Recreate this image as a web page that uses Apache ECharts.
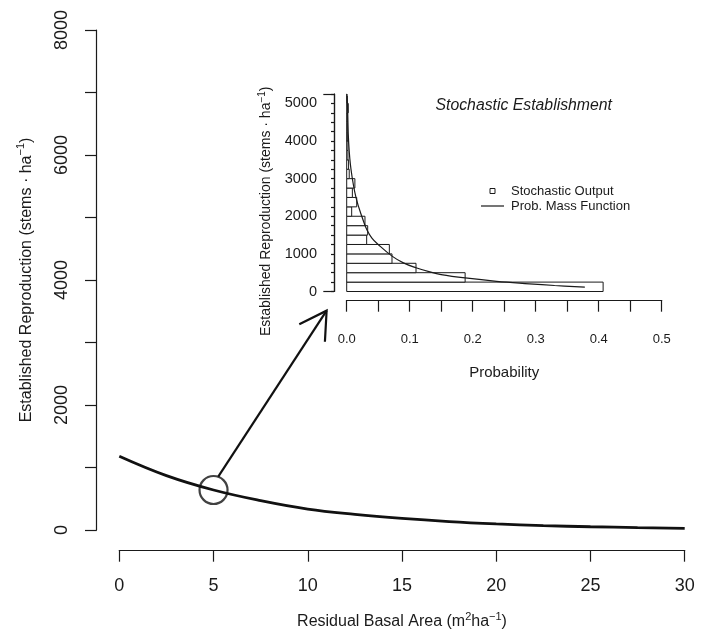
<!DOCTYPE html>
<html>
<head>
<meta charset="utf-8">
<script src="https://cdn.jsdelivr.net/npm/echarts@6/dist/echarts.min.js"></script>
<style>
  html, body { margin: 0; padding: 0; background: #fff; }
  #chart { width: 710px; height: 633px; }
</style>
</head>
<body>
<div id="chart"></div>
<script>
// Expected establishment vs residual basal area
const basalArea = [0, 2.5, 5, 7.5, 10, 12.5, 15, 17.5, 20, 22.5, 25, 27.5, 30];
const reproduction = [1180, 870, 640, 470, 335, 250, 185, 135, 98, 70, 52, 38, 27];

// Highlighted point (basal area 5) and the pointer towards the inset
const focusPoint = [5, 640];
const arrowShaft = [[5.25, 853], [11.0, 3509]];
const arrowHead = [[9.55, 3291], [11.0, 3509], [10.91, 3013]];

// Inset: simulated establishment histogram (bins of 250 stems/ha)
const binLower = [0, 250, 500, 750, 1000, 1250, 1500, 1750, 2000, 2250, 2500,
                  2750, 3000, 3250, 3500, 3750, 4000, 4250, 4500, 4750, 5000];
const binUpper = [250, 500, 750, 1000, 1250, 1500, 1750, 2000, 2250, 2500, 2750,
                  3000, 3250, 3500, 3750, 4000, 4250, 4500, 4750, 5000, 5250];
const binProb = [0.407, 0.188, 0.110, 0.0719, 0.0677, 0.0317, 0.0333, 0.029, 0.0079, 0.0159,
                 0.009, 0.013, 0.004, 0.003, 0.002, 0.002, 0.001, 0.001, 0.001, 0.0025, 0.0005];

// Inset: probability mass function curve (probability, stems/ha)
const pmfProb = [0.378, 0.330, 0.290, 0.238, 0.188, 0.150, 0.132, 0.110, 0.090, 0.072,
                 0.050, 0.040, 0.032, 0.026, 0.015, 0.0068, 0.003, 0.0016, 0.0008];
const pmfValue = [115, 160, 205, 270, 360, 450, 520, 630, 760, 940,
                  1250, 1420, 1640, 1900, 2480, 3250, 4000, 4760, 5200];

const FONT = '"Liberation Sans", Arial, Helvetica, sans-serif';
const INK = '#1a1a1a';

const chart = echarts.init(document.getElementById('chart'), null, { renderer: 'canvas' });

const axisBase = {
  axisLine: { show: true, onZero: false, lineStyle: { color: INK, width: 1.2 } },
  axisTick: { show: true, lineStyle: { color: INK, width: 1.2 } },
  splitLine: { show: false },
};

// Axis title with raised (superscript) pieces
function supName(parts, size, supSize, raise) {
  return {
    text: parts.map(p => `{${p[1] ? 's' : 't'}|${p[0]}}`).join(''),
    rich: {
      t: { fontSize: size, fontFamily: FONT, color: INK },
      s: { fontSize: supSize, fontFamily: FONT, color: INK, padding: [0, 0, raise * 2, 0] }
    }
  };
}

const xTitle = supName([['Residual Basal Area (m'], ['2', 1], ['ha'], ['\u22121', 1], [')']], 16, 11, 5);
const yTitle = supName([['Established Reproduction (stems \u00b7 ha'], ['\u22121', 1], [')']], 16, 11, 5);
const yTitleInset = supName([['Established Reproduction (stems \u00b7 ha'], ['\u22121', 1], [')']], 14, 10, 4.5);

const option = {
  animation: false,
  backgroundColor: '#fff',
  textStyle: { fontFamily: FONT, color: INK },
  title: {
    text: 'Stochastic Establishment',
    left: 430.5, top: 93,
    textStyle: { fontFamily: FONT, fontSize: 15.8, fontStyle: 'italic', fontWeight: 'normal', color: INK }
  },
  legend: {
    orient: 'vertical',
    left: 476, top: 179,
    itemWidth: 23, itemHeight: 5, itemGap: 1,
    selectedMode: false,
    textStyle: { fontFamily: FONT, fontSize: 13, color: INK, lineHeight: 14, padding: [0, 0, 0, 2] },
    data: [
      { name: 'Stochastic Output', icon: 'path://M0 0H10V10H0Z',
        itemStyle: { color: '#fff', borderColor: INK, borderWidth: 1 } },
      { name: 'Prob. Mass Function', icon: 'path://M0 0H23V1.2H0Z',
        itemStyle: { color: INK, borderWidth: 0 } }
    ]
  },
  grid: [
    { left: 119.3, right: 25.3, top: 30, bottom: 103, outerBoundsMode: 'none', containLabel: false },
    { left: 346.7, right: 48.3, top: 94, bottom: 341.5, outerBoundsMode: 'none', containLabel: false }
  ],
  xAxis: [
    Object.assign({}, axisBase, {
      gridIndex: 0, type: 'value', min: 0, max: 30, interval: 5, offset: 20,
      axisTick: { show: true, length: 11.7, lineStyle: { color: INK, width: 1.2 } },
      axisLabel: { fontSize: 18, fontFamily: FONT, color: INK, margin: 27 },
      name: xTitle.text, nameLocation: 'middle', nameGap: 61,
      nameTextStyle: { rich: xTitle.rich }
    }),
    Object.assign({}, axisBase, {
      gridIndex: 1, type: 'value', min: 0, max: 0.5, interval: 0.05, offset: 8.5,
      axisTick: { show: true, length: 11.7, lineStyle: { color: INK, width: 1.2 } },
      axisLabel: {
        fontSize: 13, fontFamily: FONT, color: INK, margin: 33,
        formatter: v => (Math.round(v * 100) % 10 === 0 ? v.toFixed(1) : '')
      },
      name: 'Probability', nameLocation: 'middle', nameGap: 65,
      nameTextStyle: { fontSize: 15, fontFamily: FONT, color: INK }
    })
  ],
  yAxis: [
    Object.assign({}, axisBase, {
      gridIndex: 0, type: 'value', position: 'left', min: 0, max: 8000, interval: 1000, offset: 22.6,
      axisTick: { show: true, length: 11.7, lineStyle: { color: INK, width: 1.2 } },
      axisLabel: {
        fontSize: 18, fontFamily: FONT, color: INK, rotate: 90, margin: 26,
        formatter: v => (v % 2000 === 0 ? String(v) : '')
      },
      name: yTitle.text, nameLocation: 'middle', nameGap: 60, nameRotate: 90,
      nameTextStyle: { rich: yTitle.rich }
    }),
    Object.assign({}, axisBase, {
      gridIndex: 1, type: 'value', position: 'left', min: 0, max: 5250, interval: 250, offset: 12.7,
      axisTick: { show: true, length: 3, lineStyle: { color: INK, width: 1.2 } },
      axisLabel: {
        fontSize: 14.5, fontFamily: FONT, color: INK, margin: 17,
        formatter: v => (v % 1000 === 0 ? String(v) : '')
      },
      name: yTitleInset.text, nameLocation: 'middle', nameGap: 58, nameRotate: 90,
      nameTextStyle: { rich: yTitleInset.rich, padding: [0, 37, 0, 0] }
    }),
    Object.assign({}, axisBase, {
      gridIndex: 1, type: 'value', position: 'left', min: 0, max: 5250, interval: 5250, offset: 12.7,
      axisTick: { show: true, length: 10.7, lineStyle: { color: INK, width: 1.2 } },
      axisLabel: { show: false }
    })
  ],
  series: [
    {
      name: 'Expected establishment', type: 'line', xAxisIndex: 0, yAxisIndex: 0,
      data: basalArea.map((x, i) => [x, reproduction[i]]),
      smooth: 0.4, symbol: 'none', silent: true,
      lineStyle: { color: '#111', width: 2.8 }
    },
    {
      name: 'Focus', type: 'scatter', xAxisIndex: 0, yAxisIndex: 0,
      data: [focusPoint], symbol: 'circle', symbolSize: 28, silent: true,
      itemStyle: { color: 'rgba(0,0,0,0)', borderColor: '#111', borderWidth: 2.2 }
    },
    {
      name: 'Pointer', type: 'line', xAxisIndex: 0, yAxisIndex: 0,
      data: arrowShaft, symbol: 'none', silent: true,
      lineStyle: { color: '#111', width: 2.2 }
    },
    {
      name: 'Pointer head', type: 'line', xAxisIndex: 0, yAxisIndex: 0,
      data: arrowHead, symbol: 'none', silent: true,
      lineStyle: { color: '#111', width: 2.2, join: 'miter' }
    },
    {
      name: 'Stochastic Output', type: 'custom', xAxisIndex: 1, yAxisIndex: 1,
      data: binProb.map((p, i) => [p, binLower[i], binUpper[i]]),
      encode: { x: 0, y: [1, 2] },
      itemStyle: { color: '#fff', borderColor: INK },
      renderItem: (params, api) => {
        const p = api.value(0), lo = api.value(1), hi = api.value(2);
        const tl = api.coord([0, hi]);
        const br = api.coord([p, lo]);
        return {
          type: 'rect',
          shape: { x: tl[0], y: tl[1], width: br[0] - tl[0], height: br[1] - tl[1] },
          style: { fill: '#fff', stroke: INK, lineWidth: 1 }
        };
      },
      z: 2
    },
    {
      name: 'Prob. Mass Function', type: 'line', xAxisIndex: 1, yAxisIndex: 1,
      data: pmfProb.map((p, i) => [p, pmfValue[i]]),
      smooth: 0.4, symbol: 'none', silent: true,
      lineStyle: { color: INK, width: 1.2 },
      itemStyle: { color: INK },
      z: 3
    }
  ]
};

chart.setOption(option);
</script>
</body>
</html>
